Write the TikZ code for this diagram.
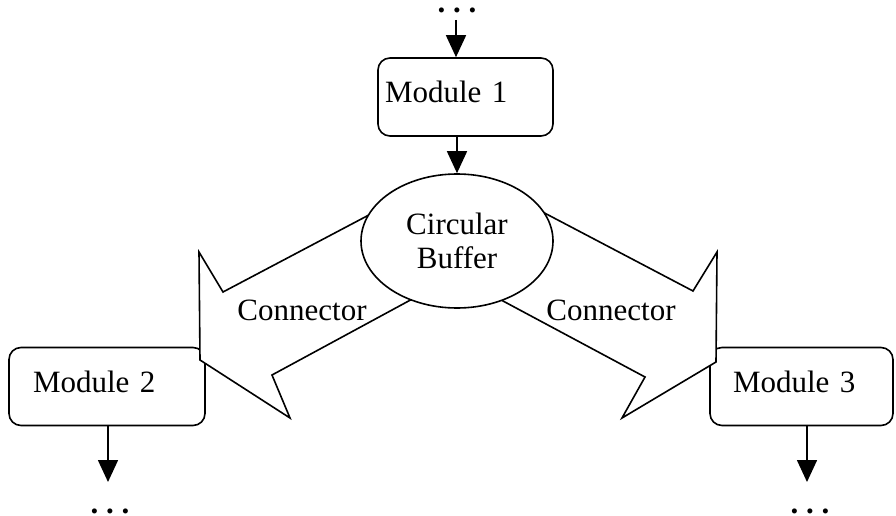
\documentclass[tikz,border=0pt]{standalone}
\usepackage{fontspec}
\setmainfont{Liberation Serif}
\usetikzlibrary{shapes.geometric,arrows.meta}
\tikzset{
  modbox/.style={draw, line width=1.6pt, rounded corners=12pt, minimum height=78pt,
    align=left, text depth=10pt, font=\fontsize{31}{35}\selectfont},
  buffer/.style={draw, ellipse, line width=1.6pt, fill=white, minimum width=192pt,
    minimum height=134pt, inner sep=0pt, align=center, font=\fontsize{31}{35}\selectfont},
  connshape/.style={draw, line width=1.6pt, fill=white, line join=miter},
  flow/.style={line width=1.6pt, -{Triangle[length=22pt,width=20pt]}},
  lbl/.style={font=\fontsize{31}{35}\selectfont, inner sep=0pt},
  dots/.style={font=\bfseries\fontsize{31}{35}\selectfont, inner sep=0pt, anchor=base}
}
\begin{document}
\begin{tikzpicture}[x=1pt,y=-1pt]
\useasboundingbox (0,0) rectangle (896,516);
% modules
\node[modbox, minimum width=175pt, inner xsep=7pt, text width=161pt] (m1) at (465.5,97) {Module 1};
\node[modbox, minimum width=196pt, inner xsep=24pt, text width=148pt] (m2) at (107,386.5) {Module 2};
\node[modbox, minimum width=183pt, inner xsep=23pt, text width=137pt] (m3) at (801.5,386.5) {Module 3};
% connectors (block arrows)
\draw[connshape] (420,188) -- (223,292) -- (199,252) -- (200,360) -- (290,418) -- (272,375) -- (440,284) -- cycle;
\draw[connshape] (495,187) -- (693,291) -- (717,252) -- (716,362) -- (622,418) -- (645,377) -- (475,286) -- cycle;
% buffer
\node[buffer] (buf) at (457,241) {Circular\\[-1pt]Buffer};
% labels
\node[lbl] (cl) at (302,310) {Connector};
\node[lbl] (cr) at (611,310) {Connector};
% dots
\node[dots] (d1) at (457,13) {.\ .\ .};
\node[dots] (d2) at (110,513) {.\ .\ .};
\node[dots] (d3) at (810,513) {.\ .\ .};
\coordinate (in1) at (456,20);
\coordinate (out2) at (108,482);
\coordinate (out3) at (807,482);
% flows
\draw[flow] (in1) -- (in1 |- m1.north);
\draw[flow] (buf.north |- m1.south) -- (buf.north);
\draw[flow] (out2 |- m2.south) -- (out2);
\draw[flow] (out3 |- m3.south) -- (out3);
\end{tikzpicture}
\end{document}
